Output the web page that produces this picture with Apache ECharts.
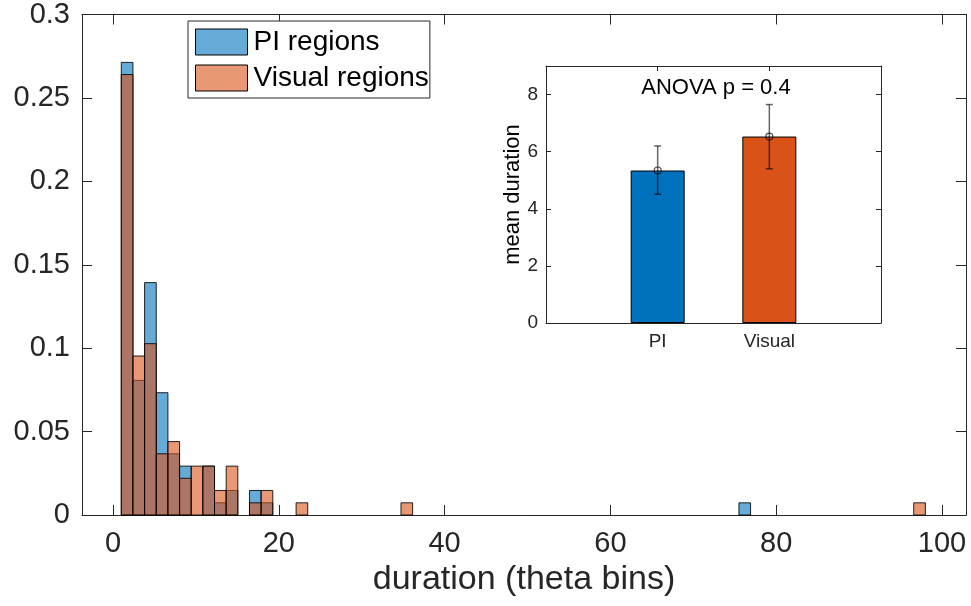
<!DOCTYPE html>
<html>
<head>
<meta charset="utf-8">
<script src="https://cdn.jsdelivr.net/npm/echarts@6/dist/echarts.min.js"></script>
<style>
html,body{margin:0;padding:0;background:#fff;}
#chart{width:971px;height:606px;}
</style>
</head>
<body>
<div id="chart"></div>
<script>
// ---- Histogram binning (shared by both groups) ----
const binLow = 1;
const binHigh = 98;
const binCount = 69;

// ---- PI regions (pdf-normalised histogram, non-empty bins) ----
const piBins   = [0, 1, 2, 3, 4, 5, 7, 8, 9, 11, 12, 53];
const piValues = [0.2713, 0.0807, 0.1393, 0.0733, 0.0367, 0.0293, 0.0293, 0.0073, 0.0147, 0.0147, 0.0073, 0.0073];

// ---- Visual regions ----
const visBins   = [0, 1, 2, 3, 4, 5, 6, 7, 8, 9, 11, 12, 15, 24, 68];
const visValues = [0.2640, 0.0953, 0.1027, 0.0367, 0.0440, 0.0220, 0.0293, 0.0293, 0.0147, 0.0293, 0.0073, 0.0147, 0.0073, 0.0073, 0.0073];

// ---- Main axis ticks ----
const xTicks = [0, 20, 40, 60, 80, 100];
const yTicks = [0, 0.05, 0.1, 0.15, 0.2, 0.25, 0.3];

// ---- Inset: mean duration ----
const insetCats  = ['PI', 'Visual'];
const insetMeans = [5.34, 6.53];
const insetLow   = [4.51, 5.40];
const insetHigh  = [6.20, 7.65];
const insetYTicks = [0, 2, 4, 6, 8];

const FONT = '"Liberation Sans", Arial, Helvetica, sans-serif';
const AX = '#262626';
const binWidth = (binHigh - binLow) / binCount;

function histSeries(name, bins, vals, color) {
  return {
    type: 'custom', name: name, xAxisIndex: 0, yAxisIndex: 0,
    data: bins.map((b, i) => [binLow + b * binWidth, binLow + (b + 1) * binWidth, vals[i]]),
    encode: { x: [0, 1], y: 2 },
    renderItem: function (params, api) {
      const p0 = api.coord([api.value(0), api.value(2)]);
      const p1 = api.coord([api.value(1), 0]);
      return {
        type: 'rect',
        shape: { x: p0[0], y: p0[1], width: p1[0] - p0[0], height: p1[1] - p0[1] },
        style: { fill: color, stroke: 'rgba(0,0,0,0.85)', lineWidth: 1 }
      };
    },
    itemStyle: { color: color },
    z: 2
  };
}

function boxAxisX(gridIndex, min, max, pos, tickVals, tickLen, showLabels, labelFmt, fontSize, margin, name, nameGap, nameSize) {
  return {
    type: 'value', gridIndex: gridIndex, position: pos, min: min, max: max,
    axisLine: { show: true, onZero: false, lineStyle: { color: AX, width: 1 } },
    axisTick: { show: true, inside: true, length: tickLen, customValues: tickVals, lineStyle: { color: AX, width: 1 } },
    axisLabel: { show: showLabels, customValues: tickVals, formatter: labelFmt, color: AX, fontFamily: FONT, fontSize: fontSize, margin: margin },
    splitLine: { show: false },
    name: name || '', nameLocation: 'middle', nameGap: nameGap || 0,
    nameTextStyle: { color: AX, fontFamily: FONT, fontSize: nameSize || 12 }
  };
}
function boxAxisY(gridIndex, min, max, pos, tickVals, tickLen, showLabels, fontSize, margin, name, nameGap, nameSize) {
  return {
    type: 'value', gridIndex: gridIndex, position: pos, min: min, max: max,
    axisLine: { show: true, onZero: false, lineStyle: { color: AX, width: 1 } },
    axisTick: { show: true, inside: true, length: tickLen, customValues: tickVals, lineStyle: { color: AX, width: 1 } },
    axisLabel: { show: showLabels, customValues: tickVals, formatter: v => String(+v.toFixed(2)), color: AX, fontFamily: FONT, fontSize: fontSize, margin: margin },
    splitLine: { show: false },
    name: name || '', nameLocation: 'middle', nameGap: nameGap || 0, nameRotate: 90,
    nameTextStyle: { color: '#000', fontFamily: FONT, fontSize: nameSize || 12 }
  };
}

const chart = echarts.init(document.getElementById('chart'), null, { renderer: 'canvas' });

const catFmt = v => insetCats[Math.round(v) - 1] || '';

const option = {
  animation: false,
  backgroundColor: '#fff',
  title: {
    text: 'ANOVA p = 0.4', left: 711, top: 72, textAlign: 'center',
    textStyle: { color: '#000', fontFamily: FONT, fontSize: 22, fontWeight: 'normal' }
  },
  legend: {
    orient: 'vertical', left: 188, top: 21,
    padding: [7, 1, 6, 7], itemGap: 8, itemWidth: 52, itemHeight: 26,
    borderColor: AX, borderWidth: 1, backgroundColor: '#fff',
    textStyle: { color: '#000', fontFamily: FONT, fontSize: 28, padding: [0, 0, 0, 1] },
    data: [
      { name: 'PI regions', icon: 'rect', itemStyle: { color: 'rgba(0,114,189,0.6)', borderColor: '#000', borderWidth: 1 } },
      { name: 'Visual regions', icon: 'rect', itemStyle: { color: 'rgba(217,83,25,0.6)', borderColor: '#000', borderWidth: 1 } }
    ],
    z: 10
  },
  grid: [
    { left: 82, right: 5, top: 12, bottom: 91, containLabel: false },
    { left: 546, right: 90, top: 66, bottom: 283, containLabel: false, show: true, backgroundColor: '#fff', borderWidth: 0, z: 5 }
  ],
  xAxis: [
    boxAxisX(0, -3.74, 102.9, 'bottom', xTicks, 10, true, v => String(v), 29, 14, 'duration (theta bins)', 44, 34),
    boxAxisX(0, -3.74, 102.9, 'top', xTicks, 10, false),
    Object.assign(boxAxisX(1, 0, 3, 'bottom', [1, 2], 5, true, catFmt, 19, 9), { z: 6 }),
    Object.assign(boxAxisX(1, 0, 3, 'top', [1, 2], 5, false), { z: 6 })
  ],
  yAxis: [
    boxAxisY(0, 0, 0.3, 'left', yTicks, 10, true, 29, 12),
    boxAxisY(0, 0, 0.3, 'right', yTicks, 10, false),
    Object.assign(boxAxisY(1, 0, 9, 'left', insetYTicks, 5, true, 19, 8, 'mean duration', 22, 22), { z: 6 }),
    Object.assign(boxAxisY(1, 0, 9, 'right', insetYTicks, 5, false), { z: 6 })
  ],
  series: [
    histSeries('PI regions', piBins, piValues, 'rgba(0,114,189,0.6)'),
    histSeries('Visual regions', visBins, visValues, 'rgba(217,83,25,0.6)'),
    {
      type: 'bar', name: 'insetBars', xAxisIndex: 2, yAxisIndex: 2, barWidth: 54,
      data: insetMeans.map((m, i) => ({ value: [i + 1, m], itemStyle: { color: i === 0 ? '#0072BD' : '#D95319' } })),
      itemStyle: { borderColor: '#000', borderWidth: 1 },
      z: 7, silent: true
    },
    {
      type: 'custom', name: 'insetErr', xAxisIndex: 2, yAxisIndex: 2,
      data: insetMeans.map((m, i) => [i + 1, insetLow[i], insetHigh[i]]),
      encode: { x: 0, y: [1, 2] },
      renderItem: function (params, api) {
        const lo = api.coord([api.value(0), api.value(1)]);
        const hi = api.coord([api.value(0), api.value(2)]);
        const cap = 3.5;
        const st = { stroke: 'rgba(0,0,0,0.6)', lineWidth: 1.5 };
        return {
          type: 'group', children: [
            { type: 'line', shape: { x1: lo[0], y1: lo[1], x2: hi[0], y2: hi[1] }, style: st },
            { type: 'line', shape: { x1: lo[0] - cap, y1: lo[1], x2: lo[0] + cap, y2: lo[1] }, style: st },
            { type: 'line', shape: { x1: hi[0] - cap, y1: hi[1], x2: hi[0] + cap, y2: hi[1] }, style: st }
          ]
        };
      },
      z: 8, silent: true
    },
    {
      type: 'scatter', name: 'insetMean', xAxisIndex: 2, yAxisIndex: 2,
      data: insetMeans.map((m, i) => [i + 1, m]),
      symbol: 'circle', symbolSize: 7,
      itemStyle: { color: 'rgba(0,0,0,0)', borderColor: 'rgba(0,0,0,0.85)', borderWidth: 1.2 },
      z: 9, silent: true
    }
  ]
};
chart.setOption(option);
</script>
</body>
</html>
